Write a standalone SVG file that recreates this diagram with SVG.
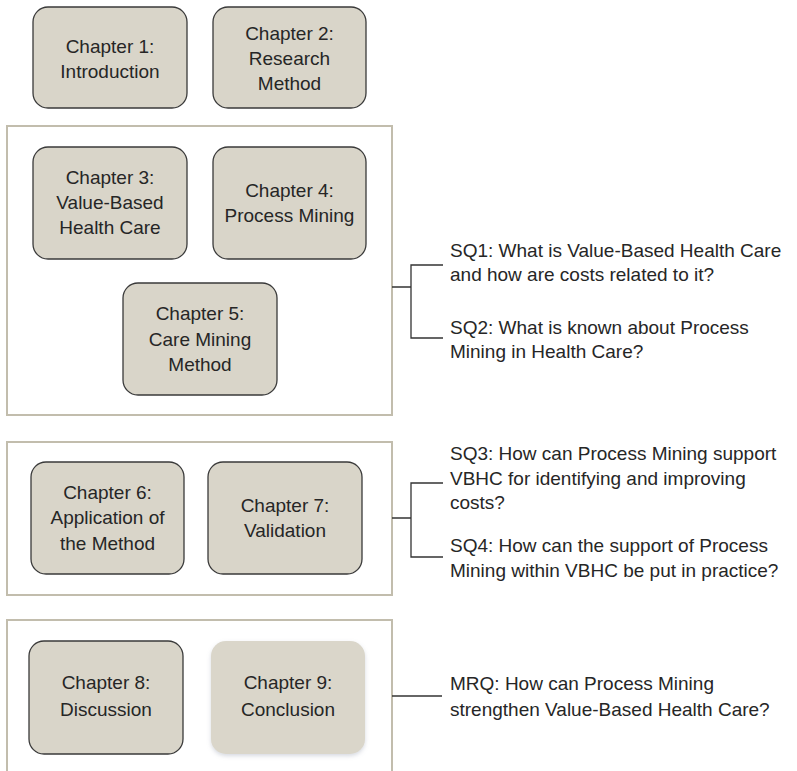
<svg xmlns="http://www.w3.org/2000/svg" width="797" height="771" viewBox="0 0 797 771">
  <style>
    .chap { fill: #d9d5c9; stroke: #3a3a3a; stroke-width: 1.3; }
    .chap-soft { fill: #dad6ca; }
    .frame { fill: none; stroke: #c2bdad; stroke-width: 2; }
    .lbl { font-family: "Liberation Sans", Arial, sans-serif; font-size: 19px; fill: #262626; text-anchor: middle; }
    .q { font-family: "Liberation Sans", Arial, sans-serif; font-size: 19px; fill: #262626; }
    .link { fill: none; stroke: #333333; stroke-width: 1.3; }
  </style>
  <defs>
    <filter id="softShadow" x="-10%" y="-10%" width="120%" height="130%">
      <feDropShadow dx="0" dy="2" stdDeviation="2" flood-color="#8a93a8" flood-opacity="0.35"/>
    </filter>
  </defs>

  <rect width="797" height="771" fill="#ffffff"/>

  <!-- section frames -->
  <g id="frames">
    <rect class="frame" x="7" y="126" width="385" height="289"/>
    <rect class="frame" x="7" y="442" width="385" height="153"/>
    <path class="frame" d="M7,775 V620 H392 V775"/>
  </g>

  <g id="ch1">
    <rect class="chap" x="33" y="7" width="154" height="101" rx="15"/>
    <text class="lbl" x="110" y="53">Chapter 1:</text>
    <text class="lbl" x="110" y="78">Introduction</text>
  </g>
  <g id="ch2">
    <rect class="chap" x="213" y="7" width="153" height="101" rx="15"/>
    <text class="lbl" x="289.5" y="40">Chapter 2:</text>
    <text class="lbl" x="289.5" y="65">Research</text>
    <text class="lbl" x="289.5" y="90">Method</text>
  </g>
  <g id="ch3">
    <rect class="chap" x="33" y="147" width="154" height="112" rx="15"/>
    <text class="lbl" x="110" y="184">Chapter 3:</text>
    <text class="lbl" x="110" y="209">Value-Based</text>
    <text class="lbl" x="110" y="234">Health Care</text>
  </g>
  <g id="ch4">
    <rect class="chap" x="213" y="147" width="153" height="112" rx="15"/>
    <text class="lbl" x="289.5" y="197">Chapter 4:</text>
    <text class="lbl" x="289.5" y="222">Process Mining</text>
  </g>
  <g id="ch5">
    <rect class="chap" x="123" y="283" width="154" height="112" rx="15"/>
    <text class="lbl" x="200" y="320">Chapter 5:</text>
    <text class="lbl" x="200" y="346">Care Mining</text>
    <text class="lbl" x="200" y="371">Method</text>
  </g>
  <g id="ch6">
    <rect class="chap" x="31" y="462" width="153" height="112" rx="15"/>
    <text class="lbl" x="107.5" y="499">Chapter 6:</text>
    <text class="lbl" x="107.5" y="524">Application of</text>
    <text class="lbl" x="107.5" y="550">the Method</text>
  </g>
  <g id="ch7">
    <rect class="chap" x="208" y="462" width="154" height="112" rx="15"/>
    <text class="lbl" x="285" y="512">Chapter 7:</text>
    <text class="lbl" x="285" y="537">Validation</text>
  </g>
  <g id="ch8">
    <rect class="chap" x="29" y="641" width="154" height="113" rx="15"/>
    <text class="lbl" x="106" y="689">Chapter 8:</text>
    <text class="lbl" x="106" y="716">Discussion</text>
  </g>
  <g id="ch9">
    <rect class="chap-soft" x="211" y="641" width="154" height="113" rx="15" filter="url(#softShadow)"/>
    <text class="lbl" x="288" y="689">Chapter 9:</text>
    <text class="lbl" x="288" y="716">Conclusion</text>
  </g>

  <!-- brackets from each section to its questions -->
  <g id="connectors">
    <path class="link" d="M392,287 H411 M443,265 H411 V338 H443"/>
    <path class="link" d="M392,518 H411 M443,483 H411 V557 H443"/>
    <path class="link" d="M392,696 H442"/>
  </g>

  <g id="sq1">
    <text class="q" x="450" y="257">SQ1: What is Value-Based Health Care</text>
    <text class="q" x="450" y="281">and how are costs related to it?</text>
  </g>
  <g id="sq2">
    <text class="q" x="450" y="334">SQ2: What is known about Process</text>
    <text class="q" x="450" y="358">Mining in Health Care?</text>
  </g>
  <g id="sq3">
    <text class="q" x="450" y="460">SQ3: How can Process Mining support</text>
    <text class="q" x="450" y="485">VBHC for identifying and improving</text>
    <text class="q" x="450" y="509">costs?</text>
  </g>
  <g id="sq4">
    <text class="q" x="450" y="552">SQ4: How can the support of Process</text>
    <text class="q" x="450" y="577">Mining within VBHC be put in practice?</text>
  </g>
  <g id="mrq">
    <text class="q" x="450" y="690">MRQ: How can Process Mining</text>
    <text class="q" x="450" y="716">strengthen Value-Based Health Care?</text>
  </g>
</svg>
